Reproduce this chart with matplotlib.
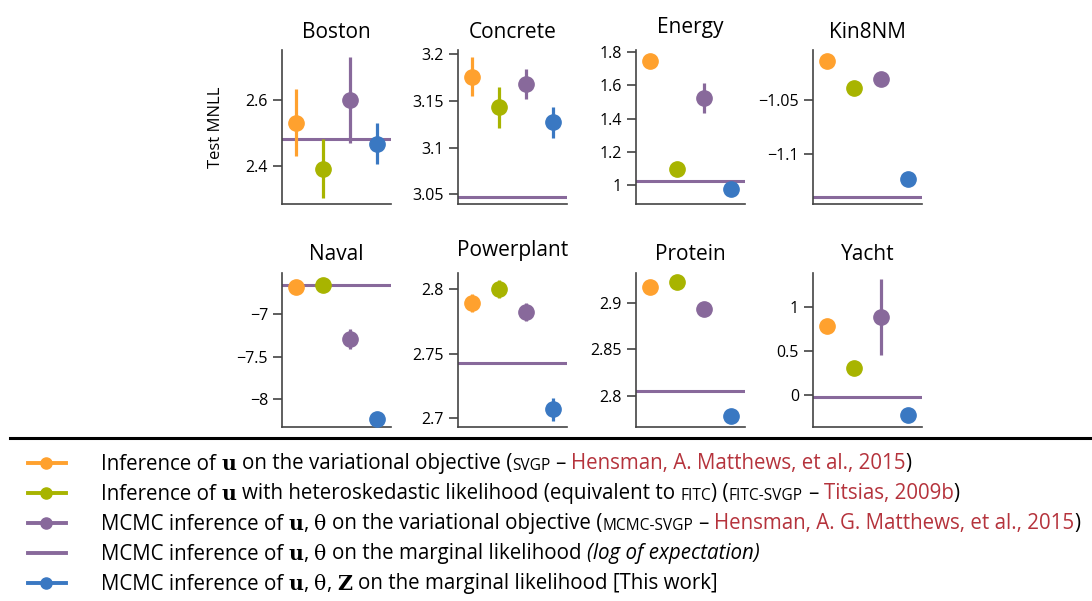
import numpy as np
import matplotlib
matplotlib.use("Agg")
import matplotlib.pyplot as plt
from matplotlib.lines import Line2D
from matplotlib.ticker import FuncFormatter

plt.rcParams['font.family'] = ['Open Sans', 'DejaVu Sans']

# data, one entry per dataset: [SVGP, FITC-SVGP, MCMC-SVGP, this work]
datasets = ['Boston', 'Concrete', 'Energy', 'Kin8NM',
            'Naval', 'Powerplant', 'Protein', 'Yacht']
means = [
    [2.531, 2.392, 2.600, 2.467],
    [3.176, 3.143, 3.168, 3.127],
    [1.748, 1.094, 1.523, 0.976],
    [-1.0138, -1.0387, -1.0307, -1.1227],
    [-6.68, -6.66, -7.296, -8.23],
    [2.7896, 2.800, 2.7826, 2.7067],
    [2.9171, 2.9225, 2.8929, 2.779],
    [0.78, 0.30, 0.88, -0.23],
]
errs = [
    [0.10, 0.088, 0.13, 0.062],
    [0.021, 0.022, 0.016, 0.017],
    [0.01, 0.01, 0.092, 0.01],
    [0.001, 0.001, 0.001, 0.001],
    [0.02, 0.02, 0.12, 0.02],
    [0.007, 0.007, 0.007, 0.009],
    [0.001, 0.001, 0.001, 0.001],
    [0.02, 0.02, 0.43, 0.02],
]
marginal = [2.48, 3.047, 1.024, -1.1398, -6.66, 2.7427, 2.8054, -0.03]
ylims = [(2.285, 2.75), (3.0396, 3.2046), (0.886, 1.812), (-1.1458, -1.004),
         (-8.324, -6.52), (2.693, 2.8127), (2.7668, 2.9318), (-0.367, 1.383)]
yticks = [[2.4, 2.6], [3.05, 3.1, 3.15, 3.2], [1, 1.2, 1.4, 1.6, 1.8],
          [-1.1, -1.05], [-8, -7.5, -7], [2.7, 2.75, 2.8],
          [2.8, 2.85, 2.9], [0, 0.5, 1]]

colors = ['#FFA12E', '#A8B400', '#88699B', '#3A78C2']
line_color = '#88699B'
cite_color = '#B5333C'

W, H = 1092, 601
fig = plt.figure(figsize=(W / 100, H / 100), dpi=100)

lefts = [282, 458, 636, 813]
tops = [50, 273]
aw, ah = 109, 154

fmt = FuncFormatter(lambda v, p: ('%g' % v).replace('-', '\u2212'))

for i, name in enumerate(datasets):
    r, c = divmod(i, 4)
    ax = fig.add_axes([lefts[c] / W, 1 - (tops[r] + ah) / H, aw / W, ah / H])
    ax.axhline(marginal[i], color=line_color, lw=2.2, zorder=1)
    for k in range(4):
        ax.errorbar(k + 0.5, means[i][k], yerr=errs[i][k], fmt='o',
                    color=colors[k], ms=11, elinewidth=2.3, capsize=0, zorder=3)
    ax.set_xlim(0, 4)
    ax.set_ylim(*ylims[i])
    ax.set_xticks([])
    ax.set_yticks(yticks[i])
    ax.yaxis.set_major_formatter(fmt)
    ax.tick_params(axis='y', length=6.5, width=1.1, pad=3.5, labelsize=11.5,
                   color='#333333')
    for s in ['top', 'right']:
        ax.spines[s].set_visible(False)
    for s in ['left', 'bottom']:
        ax.spines[s].set_color('#444444')
        ax.spines[s].set_linewidth(1.2)
    pad = 12 if name in ('Energy', 'Powerplant') else 9
    ax.set_title(name, fontsize=15, pad=pad)

fig.text(216 / W, 1 - 127 / H, 'Test MNLL', rotation=90, ha='center',
         va='center', fontsize=12)

# separator line
fig.add_artist(Line2D([10 / W, 1], [1 - 437.5 / H, 1 - 437.5 / H],
                      transform=fig.transFigure, color='black', lw=2.2))

# legend drawn by hand so the text can mix styles
fs = 14.8
sc = 11.2
renderer = fig.canvas.get_renderer()


def space_width(size, **kw):
    a = fig.text(0, 0, 'a a', fontsize=size, **kw)
    b = fig.text(0, 0, 'aa', fontsize=size, **kw)
    w = (a.get_window_extent(renderer).width
         - b.get_window_extent(renderer).width)
    a.remove()
    b.remove()
    return w


sp = space_width(fs)

U = dict(family='DejaVu Serif', weight='bold')
TH = dict(family='DejaVu Serif')
SC = dict(size=sc)
RED = dict(color=cite_color)
IT = dict(style='italic')

rows = [
    [('Inference of ', {}), ('u', U), (' on the variational objective (', {}),
     ('SVGP', SC), (' \u2013 ', {}), ('Hensman, A. Matthews, et al., 2015', RED),
     (')', {})],
    [('Inference of ', {}), ('u', U),
     (' with heteroskedastic likelihood (equivalent to ', {}), ('FITC', SC),
     (') (', {}), ('FITC-SVGP', SC), (' \u2013 ', {}), ('Titsias, 2009b', RED),
     (')', {})],
    [('MCMC inference of ', {}), ('u', U), (', ', {}), ('\u03b8', TH),
     (' on the variational objective (', {}), ('MCMC-SVGP', SC),
     (' \u2013 ', {}), ('Hensman, A. G. Matthews, et al., 2015', RED),
     (')', {})],
    [('MCMC inference of ', {}), ('u', U), (', ', {}), ('\u03b8', TH),
     (' on the marginal likelihood ', {}), ('(log of expectation)', IT)],
    [('MCMC inference of ', {}), ('u', U), (', ', {}), ('\u03b8', TH),
     (', ', {}), ('Z', U), (' on the marginal likelihood [This work]', {})],
]
row_y = [463, 493, 523, 553, 583]
handle_colors = colors[:3] + [line_color, colors[3]]

for j, segs in enumerate(rows):
    yc = 1 - row_y[j] / H
    fig.add_artist(Line2D([28 / W, 66 / W], [yc, yc], transform=fig.transFigure,
                          color=handle_colors[j], lw=2.8))
    if j != 3:
        fig.add_artist(Line2D([46 / W], [yc], transform=fig.transFigure,
                              color=handle_colors[j], marker='o', ms=8, lw=0))
    x = 101.0
    yb = 1 - (row_y[j] + 6.5) / H
    for txt, style in segs:
        st = dict(style)
        size = st.pop('size', fs)
        lead = len(txt) - len(txt.lstrip(' '))
        trail = len(txt) - len(txt.rstrip(' '))
        core = txt.strip(' ')
        x += lead * sp
        t = fig.text(x / W, yb, core, fontsize=size, va='baseline', ha='left',
                     **st)
        x += t.get_window_extent(renderer).width + trail * sp

fig.savefig('out.png', dpi=100)
